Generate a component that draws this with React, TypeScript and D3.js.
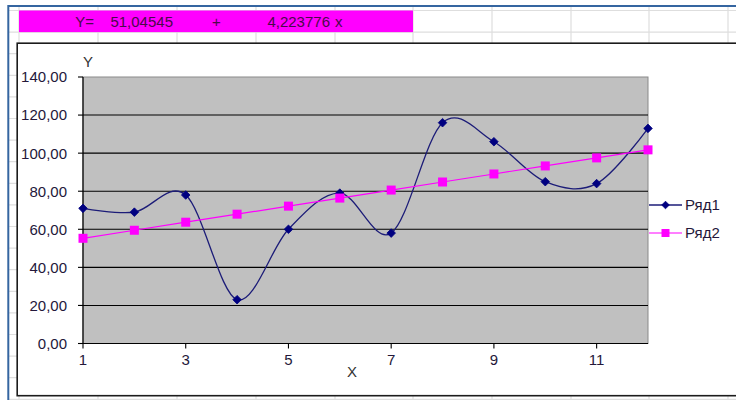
import React from "react";
import * as d3 from "d3";

// Observed values (Ряд1) and linear trend values (Ряд2)
const xValues = [1, 2, 3, 4, 5, 6, 7, 8, 9, 10, 11, 12];
const series1 = [71, 69, 78, 23, 60, 79, 58, 116, 106, 85, 84, 113];
const series2 = [55.27, 59.49, 63.72, 67.94, 72.16, 76.39, 80.61, 84.84, 89.06, 93.28, 97.51, 101.73];
const seriesNames = ["Ряд1", "Ряд2"];
const yTicks = [0, 20, 40, 60, 80, 100, 120, 140];
const xTicks = [1, 3, 5, 7, 9, 11];
const equationCells = ["Y=", "51,04545", "+", "4,223776", "x"];

const W = 736;
const H = 400;
const FONT = "'Liberation Sans', Arial, sans-serif";
const TEXT = "#24183a";

const plot = { left: 83, right: 648, top: 77, bottom: 343.5 };

const ru = d3.formatLocale({ decimal: ",", thousands: " ", grouping: [3], currency: ["", ""] });
const fmt = ru.format(".2f");

function Diamond({ x, y, r, fill }: { x: number; y: number; r: number; fill: string }) {
  return <path d={`M${x},${y - r}L${x + r},${y}L${x},${y + r}L${x - r},${y}Z`} fill={fill} stroke={fill} strokeWidth={0.8} />;
}

function Square({ x, y, s, fill }: { x: number; y: number; s: number; fill: string }) {
  return <rect x={x - s / 2} y={y - s / 2} width={s} height={s} fill={fill} />;
}

export default function App() {
  const xScale = d3.scaleLinear().domain([1, 12]).range([plot.left, plot.right]);
  const yScale = d3.scaleLinear().domain([0, 140]).range([plot.bottom, plot.top]);

  const pts1 = xValues.map((x, i) => [xScale(x), yScale(series1[i])] as [number, number]);
  const pts2 = xValues.map((x, i) => [xScale(x), yScale(series2[i])] as [number, number]);

  const smooth = d3.line().curve(d3.curveCardinal.tension(0));
  const straight = d3.line();

  // spreadsheet grid behind the chart
  const colLines = [19, 98, 177, 256, 335, 413, 492, 571, 649, 728];
  const rowLines = d3.range(10.5, 400, 21.6);

  const navy = "#000080";
  const magenta = "#ff00ff";

  return (
    <svg width={W} height={H} style={{ position: "absolute", left: 0, top: 0, background: "#fff" }} fontFamily={FONT}>
      <rect x={0} y={0} width={W} height={H} fill="#fff" />
      {colLines.map((x) => (
        <line key={"c" + x} x1={x} x2={x} y1={6} y2={H} stroke="#dedede" strokeWidth={1.2} />
      ))}
      {rowLines.map((y) => (
        <line key={"r" + y} x1={8} x2={W} y1={y} y2={y} stroke="#dedede" strokeWidth={1.2} />
      ))}
      {/* window frame */}
      <line x1={8} x2={W} y1={6} y2={6} stroke="#3565a0" strokeWidth={2} />
      <line x1={8.3} x2={8.3} y1={5} y2={H} stroke="#3565a0" strokeWidth={2} />

      {/* equation row */}
      <rect x={19} y={10.5} width={394} height={21.6} fill={magenta} />
      <g fontSize={15} fill="#4a0a4a">
        <text x={94} y={26.5} textAnchor="end">{equationCells[0]}</text>
        <text x={173} y={26.5} textAnchor="end">{equationCells[1]}</text>
        <text x={216.5} y={26.5} textAnchor="middle">{equationCells[2]}</text>
        <text x={330} y={26.5} textAnchor="end">{equationCells[3]}</text>
        <text x={335} y={26.5}>{equationCells[4]}</text>
      </g>

      {/* chart area */}
      <rect x={17.2} y={43.2} width={W} height={352.5} fill="#fff" stroke="#1c1c1c" strokeWidth={1.6} />

      {/* plot area */}
      <rect x={plot.left} y={plot.top} width={plot.right - plot.left} height={plot.bottom - plot.top} fill="#c0c0c0" stroke="#8a8a8a" strokeWidth={1} />
      {yTicks.filter((t) => t > 0 && t < 140).map((t) => (
        <line key={"g" + t} x1={plot.left} x2={plot.right} y1={yScale(t)} y2={yScale(t)} stroke="#000" strokeWidth={1.1} />
      ))}

      {/* axes */}
      <line x1={plot.left} x2={plot.left} y1={plot.top} y2={plot.bottom} stroke="#000" strokeWidth={1.2} />
      <line x1={plot.left} x2={plot.right} y1={plot.bottom} y2={plot.bottom} stroke="#000" strokeWidth={1.2} />
      {yTicks.map((t) => (
        <g key={"yt" + t}>
          <line x1={plot.left - 5} x2={plot.left} y1={yScale(t)} y2={yScale(t)} stroke="#000" strokeWidth={1.1} />
          <text x={67} y={yScale(t)} dy="0.36em" textAnchor="end" fontSize={15} fill={TEXT}>
            {fmt(t)}
          </text>
        </g>
      ))}
      {xTicks.map((t) => (
        <g key={"xt" + t}>
          <line x1={xScale(t)} x2={xScale(t)} y1={plot.bottom} y2={plot.bottom + 5} stroke="#000" strokeWidth={1.1} />
          <text x={xScale(t)} y={360} dy="0.36em" textAnchor="middle" fontSize={15} fill={TEXT}>
            {t}
          </text>
        </g>
      ))}
      <text x={88} y={62} dy="0.36em" textAnchor="middle" fontSize={15} fill="#333">Y</text>
      <text x={352} y={372} dy="0.36em" textAnchor="middle" fontSize={15} fill="#333">X</text>

      {/* series */}
      <path d={smooth(pts1) ?? ""} fill="none" stroke="#1c1c78" strokeWidth={1.3} />
      {pts1.map(([x, y], i) => (
        <Diamond key={"d" + i} x={x} y={y} r={4.3} fill={navy} />
      ))}
      <path d={straight(pts2) ?? ""} fill="none" stroke={magenta} strokeWidth={1.2} />
      {pts2.map(([x, y], i) => (
        <Square key={"s" + i} x={x} y={y} s={9} fill={magenta} />
      ))}

      {/* legend */}
      <g>
        <line x1={649} x2={682} y1={205} y2={205} stroke="#1c1c78" strokeWidth={1.3} />
        <Diamond x={665.5} y={205} r={3.8} fill={navy} />
        <text x={685} y={205} dy="0.36em" fontSize={15} fill={TEXT}>{seriesNames[0]}</text>
        <line x1={649} x2={682} y1={233} y2={233} stroke={magenta} strokeWidth={1.2} />
        <Square x={665.5} y={233} s={8} fill={magenta} />
        <text x={685} y={233} dy="0.36em" fontSize={15} fill={TEXT}>{seriesNames[1]}</text>
      </g>
    </svg>
  );
}
